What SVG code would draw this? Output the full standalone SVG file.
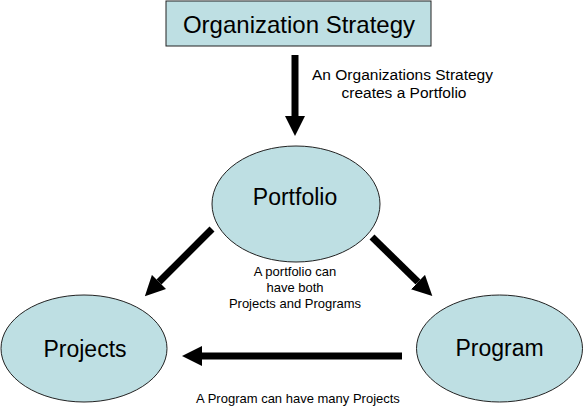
<svg xmlns="http://www.w3.org/2000/svg" width="584" height="417" viewBox="0 0 584 417">
<style>
.shape{fill:#BEDFE3;stroke:#222;stroke-width:1}
.t{font-family:"Liberation Sans",Arial,sans-serif;fill:#000;text-anchor:middle}
.big{font-size:23px}
.lbl{font-size:13px}
.conn{stroke:#000;stroke-width:7;fill:none;marker-end:url(#ah)}
</style>
<defs>
<marker id="ah" viewBox="0 0 20 20" markerWidth="20" markerHeight="20" refX="0" refY="10" orient="auto" markerUnits="userSpaceOnUse">
<path d="M0,0 L20,10 L0,20 z" fill="#000"/>
</marker>
</defs>
<rect width="584" height="417" fill="#fff"/>
<g id="strategy">
<rect class="shape" x="166" y="1" width="265" height="45"/>
<text class="t" x="299" y="33" font-size="24">Organization Strategy</text>
</g>
<g id="portfolio">
<ellipse class="shape" cx="296" cy="204" rx="84" ry="58"/>
<text class="t big" x="295" y="205">Portfolio</text>
</g>
<g id="projects">
<ellipse class="shape" cx="84" cy="348.5" rx="83" ry="53.5"/>
<text class="t big" x="85" y="357">Projects</text>
</g>
<g id="program">
<ellipse class="shape" cx="499.5" cy="348.5" rx="83" ry="53.5"/>
<text class="t big" x="499.5" y="356">Program</text>
</g>
<g id="connectors">
<line class="conn" x1="295" y1="55" x2="295" y2="116"/>
<line class="conn" x1="212" y1="229" x2="159" y2="282"/>
<line class="conn" x1="372" y1="237" x2="418" y2="282"/>
<line class="conn" x1="402" y1="356" x2="202" y2="356"/>
</g>
<g id="labels">
<text class="t" font-size="15.5" x="402.5" y="80">An Organizations Strategy</text>
<text class="t" font-size="15.5" x="404" y="98">creates a Portfolio</text>
<text class="t lbl" x="295" y="276">A portfolio can</text>
<text class="t lbl" x="295" y="292">have both</text>
<text class="t lbl" x="295" y="308">Projects and Programs</text>
<text class="t lbl" x="298" y="403">A Program can have many Projects</text>
</g>
</svg>
